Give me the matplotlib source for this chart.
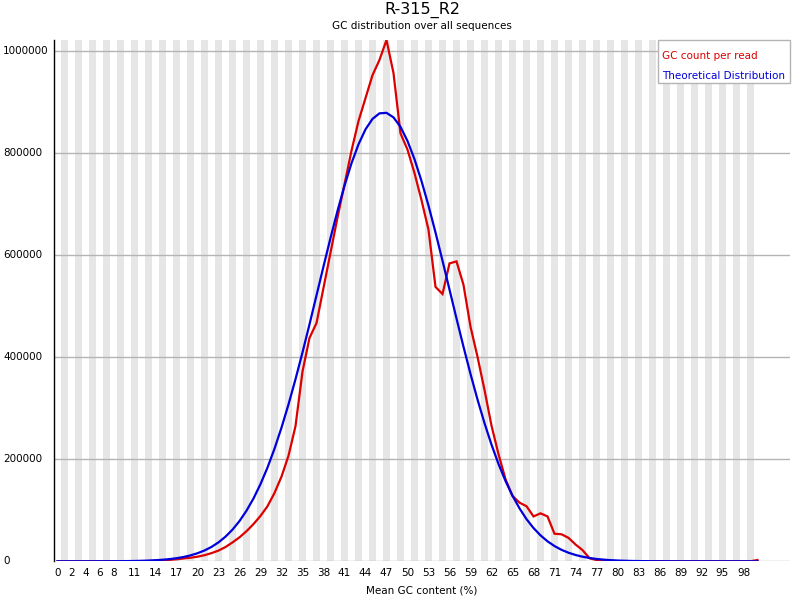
import matplotlib
matplotlib.use("Agg")
import matplotlib.pyplot as plt
import matplotlib.transforms as mtransforms
import numpy as np

plt.rcParams['font.family'] = ['DejaVu Sans']

title = "R-315_R2"
subtitle = "GC distribution over all sequences"
x_title = "Mean GC content (%)"
series_names = ["GC count per read", "Theoretical Distribution"]

# GC % categories 0..100
gc_pct = list(range(101))

gc_count = [0, 0, 0, 0, 0, 0, 0, 0, 0, 0,
            0, 0, 200, 500, 1000, 1800, 2800, 4000, 5500, 7000,
            9000, 12000, 16000, 21000, 28000, 37000, 47000, 59000, 73000, 89000,
            108000, 134000, 166000, 207000, 265000, 372000, 438000, 467000, 536000, 605000,
            674000, 739000, 805000, 863000, 908000, 953000, 983000, 1022000, 957000, 839000,
            807000, 761000, 708000, 650000, 538000, 524000, 584000, 588000, 542000, 460000,
            401000, 336000, 266000, 210000, 161000, 128000, 115000, 108000, 88000, 94000,
            88000, 54000, 53000, 46000, 33000, 22000, 6000, 2500, 1200, 600,
            300, 150, 100, 100, 100, 100, 100, 100, 100, 100,
            100, 100, 100, 100, 100, 100, 100, 100, 100, 100,
            2500]

theoretical = [0, 0, 0, 0, 0, 50, 80, 120, 180, 290,
               440, 660, 980, 1440, 2100, 3030, 4300, 6060, 8430, 11600,
               15800, 21200, 28200, 37100, 48300, 62100, 78900, 99200, 123200, 151400,
               183800, 220700, 262100, 307600, 357000, 409500, 464600, 521300, 578100, 633800,
               687000, 736400, 780300, 817500, 846800, 867300, 878200, 879200, 870300, 851700,
               824000, 788300, 745600, 697300, 644700, 589300, 532700, 476000, 420600, 367300,
               317200, 270900, 228700, 190900, 157500, 128600, 103800, 82700, 65200, 50900,
               39200, 29900, 22500, 16800, 12400, 9000, 6500, 4600, 3250, 2260,
               1550, 1060, 710, 475, 300, 200, 120, 80, 50, 30,
               20, 10, 0, 0, 0, 0, 0, 0, 0, 0,
               0]

x_labels = [0, 2, 4, 6, 8, 11, 14, 17, 20, 23, 26, 29, 32, 35, 38, 41, 44, 47,
            50, 53, 56, 59, 62, 65, 68, 71, 74, 77, 80, 83, 86, 89, 92, 95, 98]
y_ticks = [0, 200000, 400000, 600000, 800000, 1000000]

red = "#dc0000"
blue = "#0000dc"
stripe = "#e6e6e6"
grid = "#b4b4b4"

fig = plt.figure(figsize=(8, 6), dpi=100)
# plot area in pixels: x 54..790, y 40..561
ax = fig.add_axes([54 / 800, 1 - 561.3 / 600, 736 / 800, 521.3 / 600])

col_w = 7.0
x_right = -0.5 + 736 / col_w
ax.set_xlim(-0.5, x_right)
ymax = max(max(gc_count), max(theoretical))
ax.set_ylim(0, ymax)

# alternating column stripes
for i in gc_pct:
    if i % 2 == 1:
        ax.axvspan(i - 0.5, i + 0.5, color=stripe, lw=0, zorder=0)

for yt in y_ticks:
    ax.axhline(yt, color=grid, lw=1.0, zorder=1)

ax.plot(gc_pct, gc_count, color=red, lw=1.6, zorder=3, solid_joinstyle='miter')
ax.plot(gc_pct, theoretical, color=blue, lw=1.6, zorder=4, solid_joinstyle='miter')

for s in ["top", "right", "bottom"]:
    ax.spines[s].set_visible(False)
ax.spines["left"].set_color("black")
ax.spines["left"].set_linewidth(1.0)

ax.set_yticks([])
ax.set_xticks(x_labels)
ax.set_xticklabels([str(v) for v in x_labels], fontsize=7.5)
ax.tick_params(axis="x", length=0, pad=5)

# y labels left-aligned near figure edge
trans = mtransforms.blended_transform_factory(fig.transFigure, ax.transData)
for yt in y_ticks:
    ax.text(3 / 800, yt, str(yt), transform=trans, ha="left", va="center",
            fontsize=7.5, clip_on=False)

fig.text(422 / 800, 1 - 9.5 / 600, title, ha="center", va="center", fontsize=11.5)
fig.text(422 / 800, 1 - 26 / 600, subtitle, ha="center", va="center", fontsize=7.5)
fig.text(422 / 800, 1 - 590.5 / 600, x_title, ha="center", va="center", fontsize=7.5)

# legend box in top right
leg = plt.Rectangle((658 / 800, 1 - 83 / 600), 132 / 800, 43 / 600,
                    transform=fig.transFigure, facecolor="white",
                    edgecolor=grid, lw=1.0, zorder=5)
fig.patches.append(leg)
fig.text(662 / 800, 1 - 56 / 600, series_names[0], color=red, ha="left",
         va="center", fontsize=7.5, zorder=6)
fig.text(662 / 800, 1 - 76 / 600, series_names[1], color=blue, ha="left",
         va="center", fontsize=7.5, zorder=6)

fig.savefig("out.png", dpi=100)
